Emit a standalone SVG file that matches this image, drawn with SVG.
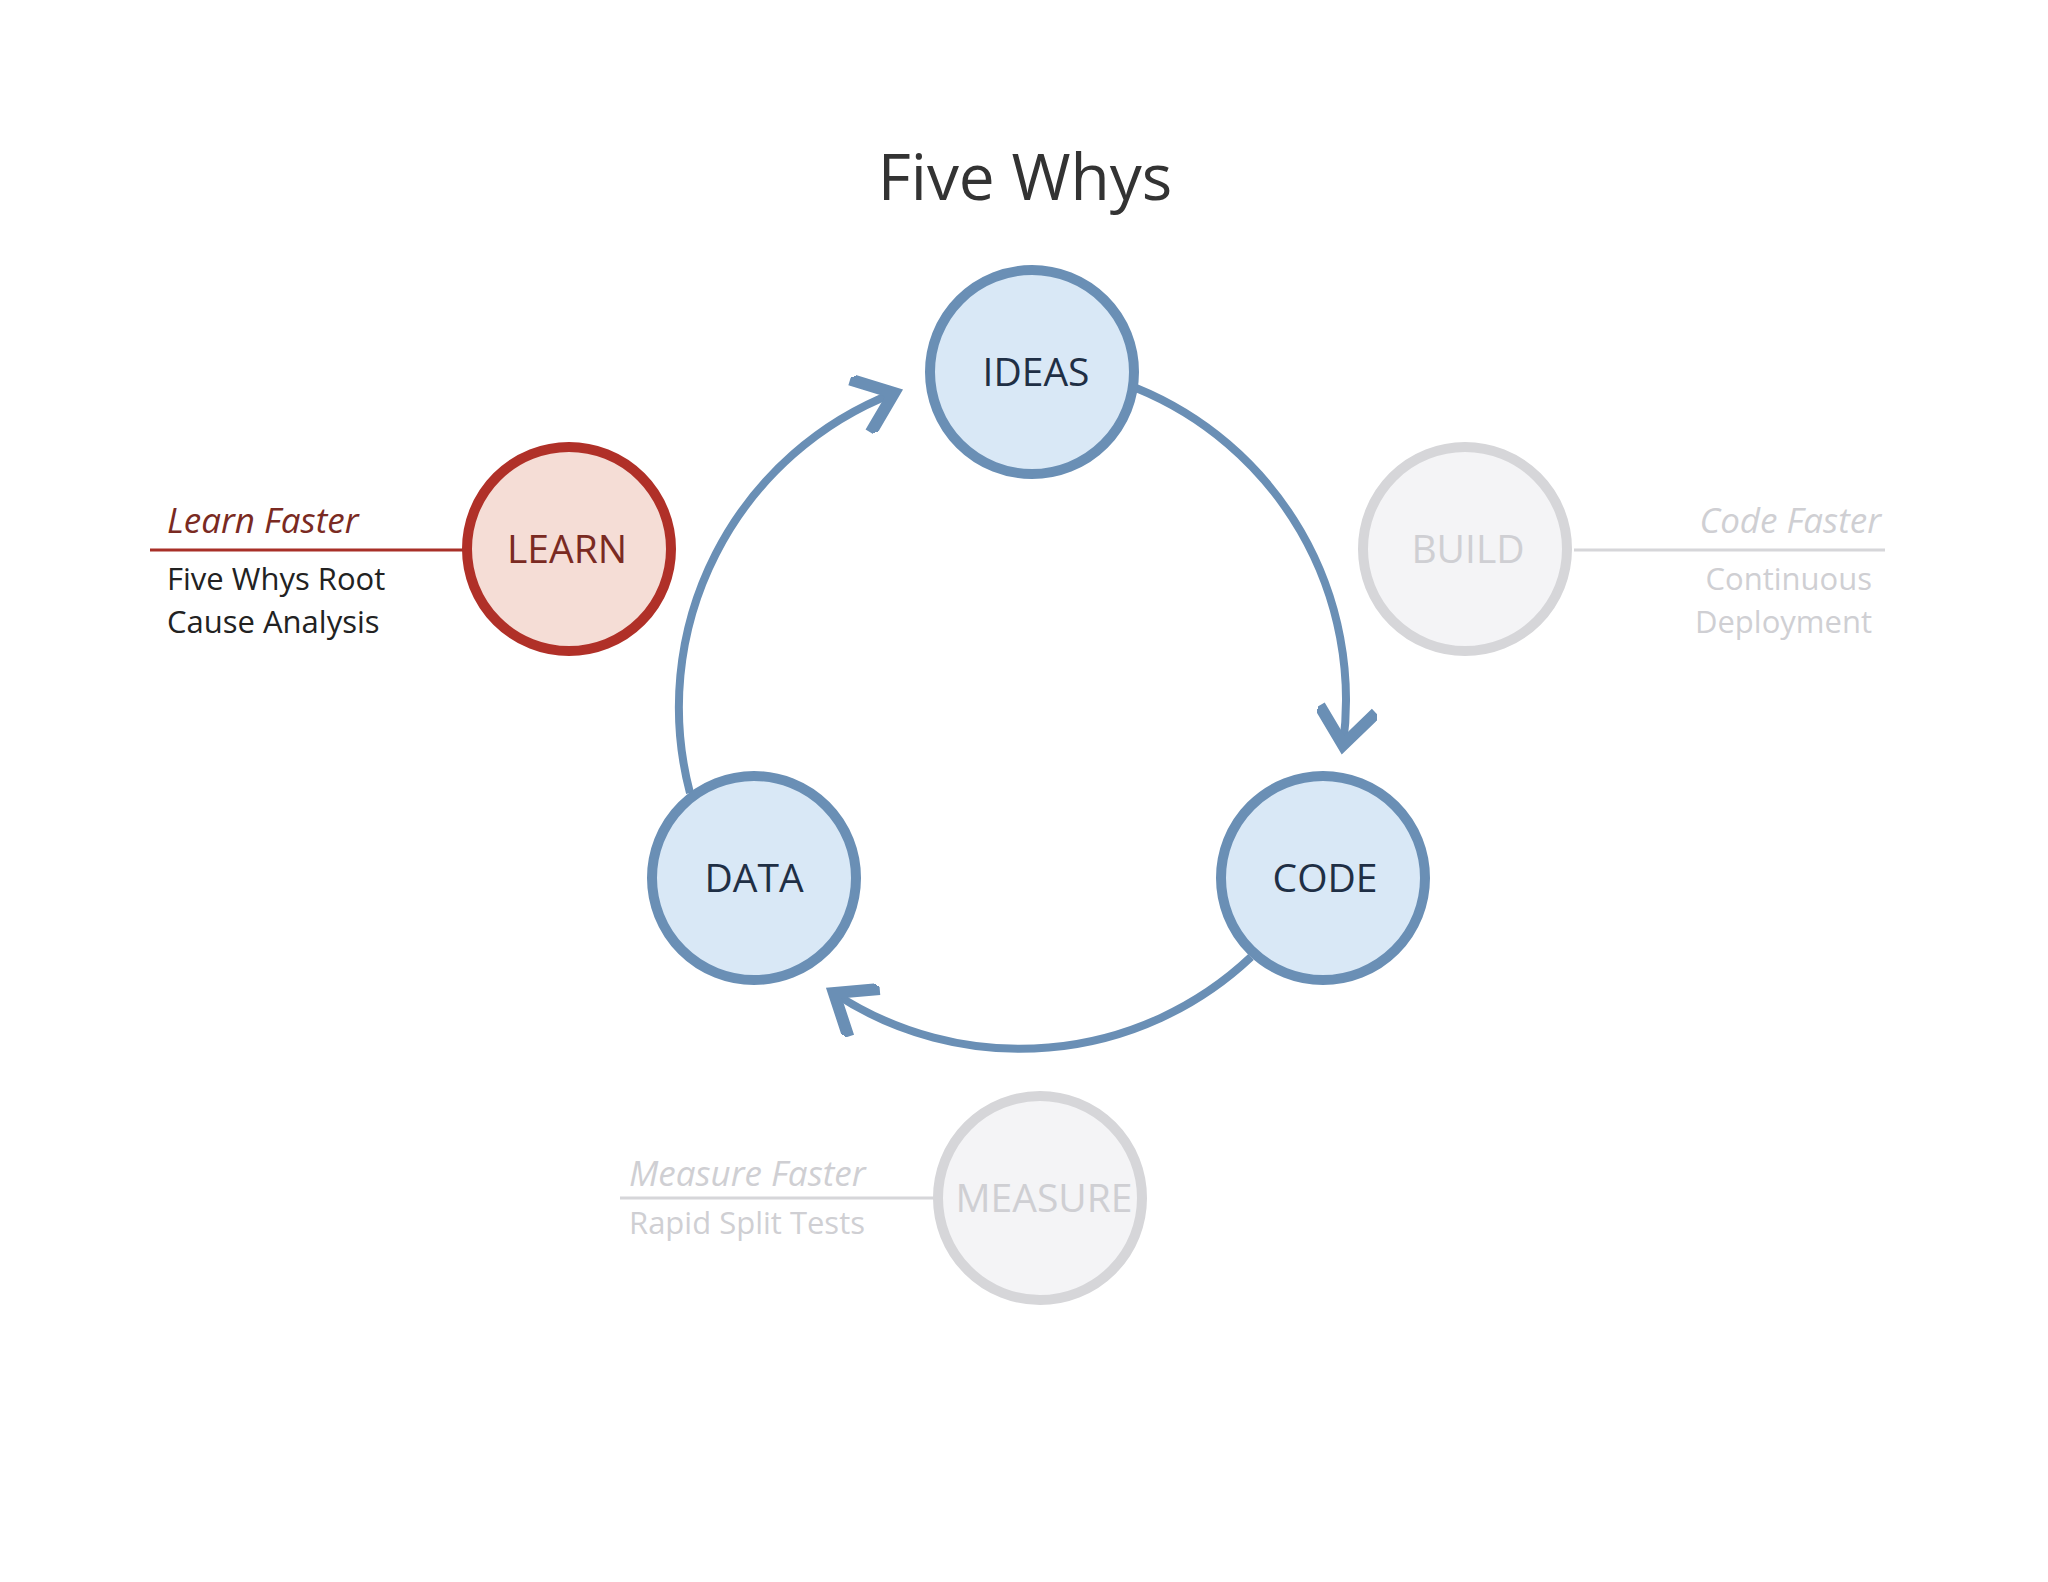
<svg xmlns="http://www.w3.org/2000/svg" width="2048" height="1582" viewBox="0 0 2048 1582">
<style>
.b circle{fill:#d9e8f6;stroke:#6a8fb5;stroke-width:10}
.b text{fill:#1f2f45}
.g circle{fill:#f4f4f6;stroke:#d6d6d9;stroke-width:10}
.g text,.gt{fill:#cfcfd3}
text{font-family:"Open Sans","Liberation Sans",sans-serif}
.n{font-size:39px;text-anchor:middle}
.h{font-size:35px;font-style:italic}
.s{font-size:31px}
.arc{fill:none;stroke:#6a8fb5;stroke-width:8;marker-end:url(#m)}
</style>
<defs>
<marker id="m" markerUnits="userSpaceOnUse" markerWidth="60" markerHeight="60" refX="2" refY="20" orient="auto" viewBox="-28 0 40 40">
<polyline points="-22,1 2,20 -22,39" fill="none" stroke="#6a8fb5" stroke-width="8"/>
</marker>
</defs>
<rect width="2048" height="1582" fill="#fff"/>
<text x="1025" y="200" font-size="64" text-anchor="middle" fill="#333">Five Whys</text>
<g id="connectors">
<path class="arc" d="M1136,388 A337,337 0 0 1 1343,745"/>
<path class="arc" d="M1251,957 A337,337 0 0 1 834,993"/>
<path class="arc" d="M690,793 A337,337 0 0 1 894,393"/>
<line x1="150" y1="550" x2="464" y2="550" stroke="#a83028" stroke-width="3"/>
<line x1="1574" y1="550" x2="1885" y2="550" stroke="#d6d6d9" stroke-width="3"/>
<line x1="620" y1="1198" x2="934" y2="1198" stroke="#d6d6d9" stroke-width="3"/>
</g>
<g id="ideas" class="b"><circle cx="1032" cy="372" r="102"/><text class="n" x="1036" y="386">IDEAS</text></g>
<g id="code" class="b"><circle cx="1323" cy="878" r="102"/><text class="n" x="1325" y="892">CODE</text></g>
<g id="data" class="b"><circle cx="754" cy="878" r="102"/><text class="n" x="754" y="892">DATA</text></g>
<g id="learn"><circle cx="569" cy="549" r="102" fill="#f5ddd6" stroke="#b03028" stroke-width="10"/><text class="n" x="567" y="563" fill="#7a2a22">LEARN</text>
<text class="h" x="167" y="533" fill="#7a2a22">Learn Faster</text>
<text class="s" x="167" y="590" fill="#222">Five Whys Root</text>
<text class="s" x="167" y="633" fill="#222">Cause Analysis</text></g>
<g id="build" class="g"><circle cx="1465" cy="549" r="102"/><text class="n" x="1468" y="563">BUILD</text>
<text class="h" x="1881" y="533" text-anchor="end">Code Faster</text>
<text class="s" x="1872" y="590" text-anchor="end">Continuous</text>
<text class="s" x="1872" y="633" text-anchor="end">Deployment</text></g>
<g id="measure" class="g"><circle cx="1040" cy="1198" r="102"/><text class="n" x="1044" y="1212">MEASURE</text>
<text class="h" x="629" y="1186">Measure Faster</text>
<text class="s" x="629" y="1234">Rapid Split Tests</text></g>
</svg>
